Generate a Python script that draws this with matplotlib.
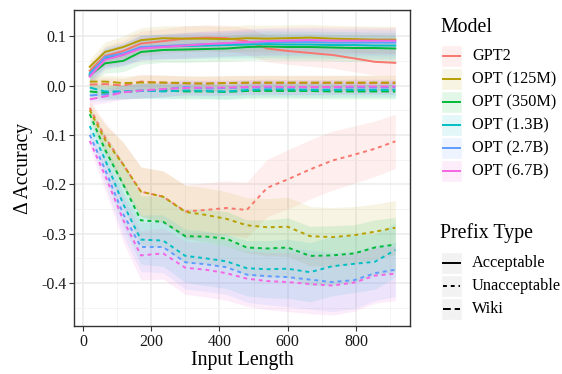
import matplotlib
matplotlib.use('Agg')
import matplotlib.pyplot as plt
from matplotlib.patches import Rectangle

plt.rcParams['font.family'] = ['Liberation Serif', 'DejaVu Serif']

# input length bins
x = [20, 65, 118, 170, 235, 300, 360, 420, 480, 540, 600, 665, 730, 795, 855, 915]

models = ['GPT2', 'OPT (125M)', 'OPT (350M)', 'OPT (1.3B)', 'OPT (2.7B)', 'OPT (6.7B)']
colors = ['#F8766D', '#B79F00', '#00BA38', '#00BFC4', '#619CFF', '#F564E3']

# acceptable prefix
acc = {
    'GPT2':       [0.030, 0.060, 0.070, 0.085, 0.090, 0.095, 0.097, 0.096, 0.090, 0.075, 0.070, 0.066, 0.062, 0.055, 0.048, 0.046],
    'OPT (125M)': [0.038, 0.068, 0.078, 0.092, 0.096, 0.095, 0.095, 0.094, 0.096, 0.095, 0.096, 0.097, 0.095, 0.094, 0.093, 0.093],
    'OPT (350M)': [0.020, 0.045, 0.050, 0.068, 0.072, 0.073, 0.074, 0.075, 0.078, 0.079, 0.078, 0.078, 0.077, 0.076, 0.076, 0.075],
    'OPT (1.3B)': [0.025, 0.055, 0.062, 0.077, 0.079, 0.080, 0.081, 0.082, 0.083, 0.084, 0.083, 0.083, 0.082, 0.082, 0.081, 0.081],
    'OPT (2.7B)': [0.022, 0.058, 0.065, 0.078, 0.080, 0.082, 0.084, 0.085, 0.087, 0.088, 0.088, 0.088, 0.087, 0.087, 0.087, 0.087],
    'OPT (6.7B)': [0.018, 0.052, 0.062, 0.075, 0.078, 0.081, 0.084, 0.086, 0.088, 0.090, 0.091, 0.092, 0.091, 0.091, 0.091, 0.091],
}

# unacceptable prefix
unacc = {
    'GPT2':       [-0.045, -0.105, -0.160, -0.215, -0.225, -0.255, -0.252, -0.248, -0.252, -0.207, -0.190, -0.170, -0.152, -0.140, -0.128, -0.113],
    'OPT (125M)': [-0.050, -0.110, -0.160, -0.215, -0.225, -0.256, -0.262, -0.270, -0.283, -0.287, -0.286, -0.305, -0.307, -0.303, -0.296, -0.288],
    'OPT (350M)': [-0.058, -0.130, -0.200, -0.273, -0.276, -0.305, -0.306, -0.310, -0.328, -0.330, -0.328, -0.345, -0.344, -0.340, -0.328, -0.322],
    'OPT (1.3B)': [-0.082, -0.150, -0.240, -0.312, -0.314, -0.345, -0.350, -0.356, -0.370, -0.372, -0.371, -0.378, -0.366, -0.361, -0.357, -0.333],
    'OPT (2.7B)': [-0.100, -0.170, -0.260, -0.327, -0.327, -0.358, -0.362, -0.368, -0.383, -0.386, -0.388, -0.393, -0.398, -0.394, -0.380, -0.373],
    'OPT (6.7B)': [-0.112, -0.182, -0.272, -0.344, -0.340, -0.369, -0.373, -0.380, -0.391, -0.396, -0.398, -0.402, -0.405, -0.399, -0.385, -0.381],
}

# wiki prefix
wiki = {
    'GPT2':       [0.002, 0.003, 0.000, 0.008, 0.006, 0.004, 0.004, 0.005, 0.005, 0.005, 0.005, 0.005, 0.005, 0.005, 0.005, 0.005],
    'OPT (125M)': [0.008, 0.008, 0.005, 0.006, 0.006, 0.005, 0.004, 0.005, 0.006, 0.006, 0.006, 0.006, 0.006, 0.006, 0.006, 0.006],
    'OPT (350M)': [-0.012, -0.015, -0.013, -0.011, -0.010, -0.012, -0.012, -0.013, -0.011, -0.011, -0.011, -0.011, -0.012, -0.012, -0.012, -0.012],
    'OPT (1.3B)': [-0.004, -0.012, -0.012, -0.010, -0.012, -0.010, -0.011, -0.012, -0.009, -0.008, -0.008, -0.009, -0.009, -0.009, -0.009, -0.009],
    'OPT (2.7B)': [-0.020, -0.018, -0.013, -0.011, -0.008, -0.003, -0.006, -0.005, -0.004, -0.004, -0.004, -0.004, -0.004, -0.004, -0.004, -0.004],
    'OPT (6.7B)': [-0.028, -0.022, -0.014, -0.010, -0.007, -0.005, -0.004, -0.004, -0.003, -0.002, -0.003, -0.003, -0.003, -0.002, -0.002, -0.002],
}

# confidence band half widths
ci_acc = [0.015, 0.020, 0.022, 0.025, 0.025, 0.026, 0.026, 0.026, 0.027, 0.027, 0.027, 0.027, 0.027, 0.027, 0.027, 0.027]
ci_unacc = [0.015, 0.030, 0.045, 0.050, 0.052, 0.054, 0.055, 0.055, 0.056, 0.058, 0.060, 0.060, 0.060, 0.058, 0.056, 0.055]
ci_wiki = [0.012, 0.013, 0.014, 0.015, 0.015, 0.015, 0.015, 0.015, 0.015, 0.015, 0.015, 0.015, 0.015, 0.015, 0.015, 0.015]

yticks = [-0.4, -0.3, -0.2, -0.1, 0.0, 0.1]
ytick_labels = ['-0.4', '-0.3', '-0.2', '-0.1', '0.0', '0.1']

W, H = 562, 374
fig = plt.figure(figsize=(W / 100, H / 100), dpi=100)
ax = fig.add_axes([74 / W, 1 - 326 / H, (410 - 74) / W, (326 - 10) / H])

styles = [(acc, ci_acc, '-'), (unacc, ci_unacc, (0, (2, 2))), (wiki, ci_wiki, (0, (4, 2)))]
for data, ci, ls in styles:
    for m, c in zip(models, colors):
        y = data[m]
        lo = [a - b for a, b in zip(y, ci)]
        hi = [a + b for a, b in zip(y, ci)]
        ax.fill_between(x, lo, hi, color=c, alpha=0.11, linewidth=0)
for data, ci, ls in styles:
    for m, c in zip(models, colors):
        ax.plot(x, data[m], color=c, linestyle=ls, linewidth=1.4)

ax.set_xlim(-26, 958)
ax.set_ylim(-0.487, 0.153)
ax.set_xticks([0, 200, 400, 600, 800])
ax.set_xticks([100, 300, 500, 700, 900], minor=True)
ax.set_yticks(yticks)
ax.set_yticklabels(ytick_labels)
ax.set_yticks([-0.45, -0.35, -0.25, -0.15, -0.05, 0.05, 0.15], minor=True)
ax.grid(True, which='major', color='#EBEBEB', linewidth=1.1)
ax.grid(True, which='minor', color='#F2F2F2', linewidth=0.6)
ax.set_axisbelow(True)
for s in ax.spines.values():
    s.set_color('#333333')
    s.set_linewidth(1.0)
ax.tick_params(which='major', length=3.5, color='#333333', labelsize=11.5, labelcolor='#1a1a1a', pad=2)
ax.tick_params(which='minor', length=0)
ax.set_xlabel('Input Length', fontsize=14.2, labelpad=1)
ax.set_ylabel('Δ Accuracy', fontsize=14.2, labelpad=6)

# legends drawn in pixel coordinates
lg = fig.add_axes([0, 0, 1, 1])
lg.set_xlim(0, W)
lg.set_ylim(H, 0)
lg.axis('off')

lg.text(440, 27, 'Model', fontsize=14.3, va='center', ha='left')
for i, (m, c) in enumerate(zip(models, colors)):
    yc = 56 + i * 23
    lg.add_patch(Rectangle((441, yc - 11), 21, 22, facecolor=c, alpha=0.11, edgecolor='none'))
    lg.add_patch(Rectangle((441, yc - 11), 21, 22, facecolor='none', edgecolor='white', linewidth=1))
    lg.plot([443, 460], [yc, yc], color=c, linewidth=1.4)
    lg.text(472, yc, m, fontsize=11.7, va='center', ha='left')

lg.text(440, 233, 'Prefix Type', fontsize=14.3, va='center', ha='left')
for i, (lab, ls) in enumerate(zip(['Acceptable', 'Unacceptable', 'Wiki'], ['-', (0, (2, 2)), (0, (4, 2))])):
    yc = 263 + i * 23
    lg.add_patch(Rectangle((441, yc - 11), 21, 22, facecolor='#F2F2F2', edgecolor='white', linewidth=1))
    lg.plot([443, 460], [yc, yc], color='black', linestyle=ls, linewidth=1.4)
    lg.text(472, yc, lab, fontsize=11.7, va='center', ha='left')

fig.savefig('out.png', dpi=100)
